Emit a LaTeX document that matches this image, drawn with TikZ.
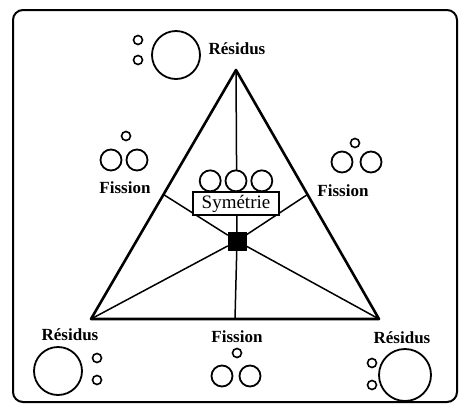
\documentclass[tikz,border=0pt]{standalone}
\usepackage{fontspec}
\setmainfont{Liberation Serif}
\usetikzlibrary{positioning,calc}

\begin{document}
\begin{tikzpicture}[
    x=1pt, y=-1pt,
    node distance=3pt,
    % node styles
    disc/.style      = {draw, circle, line width=1.8pt, fill=white, inner sep=0pt},
    bigdisc/.style   = {disc, minimum size=48pt},
    middisc/.style   = {disc, minimum size=21pt},
    smalldisc/.style = {disc, minimum size=9pt, line width=1.6pt},
    tag/.style       = {font=\fontsize{17}{20}\selectfont\bfseries, inner sep=1pt},
    symbox/.style    = {draw, line width=1.5pt, fill=white, inner sep=2pt,
                        minimum width=86pt, minimum height=23pt,
                        font=\fontsize{19}{22}\selectfont},
    core/.style      = {draw, fill=black, minimum size=18pt, inner sep=0pt},
    % edges
    side/.style      = {line width=2.6pt, line join=round},
    spoke/.style     = {line width=1.5pt}
  ]
\useasboundingbox (0,0) rectangle (461,410);

% frame
\draw[line width=2pt, rounded corners=10pt] (13,10) rectangle (457,402);

% ============================================================
% Triangle and its corners / mid-points
% ============================================================
\coordinate (top)   at (236,70);
\coordinate (left)  at (91,319);
\coordinate (right) at (379,319);
\coordinate (midL)  at ($(top)!0.5!(left)$);
\coordinate (midR)  at ($(top)!0.5!(right)$);
\coordinate (midB)  at ($(left)!0.5!(right)$);

\draw[side] (top) -- (left) -- (right) -- cycle;

% centre point and spokes
\node[core] (ctr) at (237,241) {};
\foreach \p in {top,left,right,midL,midR,midB}
  \draw[spoke] (ctr) -- (\p);

% symmetric fission in the middle
\node[symbox] (sym) at (236,203.5) {Symétrie};
\node[middisc, above=-1pt of sym] (symB) {};
\node[middisc, left=3pt of symB]  (symA) {};
\node[middisc, right=3pt of symB] (symC) {};

% ============================================================
% Corner groups: residues
% ============================================================
% top
\node[bigdisc]   (topBig) at (176,55) {};
\node[smalldisc] (topS1)  at (138,40) {};
\node[smalldisc] (topS2)  at (138,60) {};
\node[tag]       (topTag) at (237,49) {Résidus};

% bottom left
\node[tag]       (blTag) at (70,335) {Résidus};
\node[bigdisc]   (blBig) at (58,371) {};
\node[smalldisc] (blS1)  at (97,358) {};
\node[smalldisc] (blS2)  at (97,380) {};

% bottom right
\node[tag]       (brTag) at (402,338) {Résidus};
\node[bigdisc, minimum size=52pt] (brBig) at (405,375) {};
\node[smalldisc] (brS1)  at (372,363) {};
\node[smalldisc] (brS2)  at (372,385) {};

% ============================================================
% Edge groups: fission
% ============================================================
% left side
\node[smalldisc] (lfS)   at (126,136) {};
\node[middisc]   (lfA)   at (111,160) {};
\node[middisc]   (lfB)   at (137,160) {};
\node[tag]       (lfTag) at (125,188) {Fission};

% right side
\node[smalldisc] (rfS)   at (355,143) {};
\node[middisc]   (rfA)   at (342,162) {};
\node[middisc]   (rfB)   at (371,162) {};
\node[tag]       (rfTag) at (343,191) {Fission};

% bottom side
\node[tag]       (bfTag) at (237,337) {Fission};
\node[smalldisc] (bfS)   at (237,353) {};
\node[middisc]   (bfA)   at (222,376) {};
\node[middisc]   (bfB)   at (250,376) {};

\end{tikzpicture}
\end{document}
